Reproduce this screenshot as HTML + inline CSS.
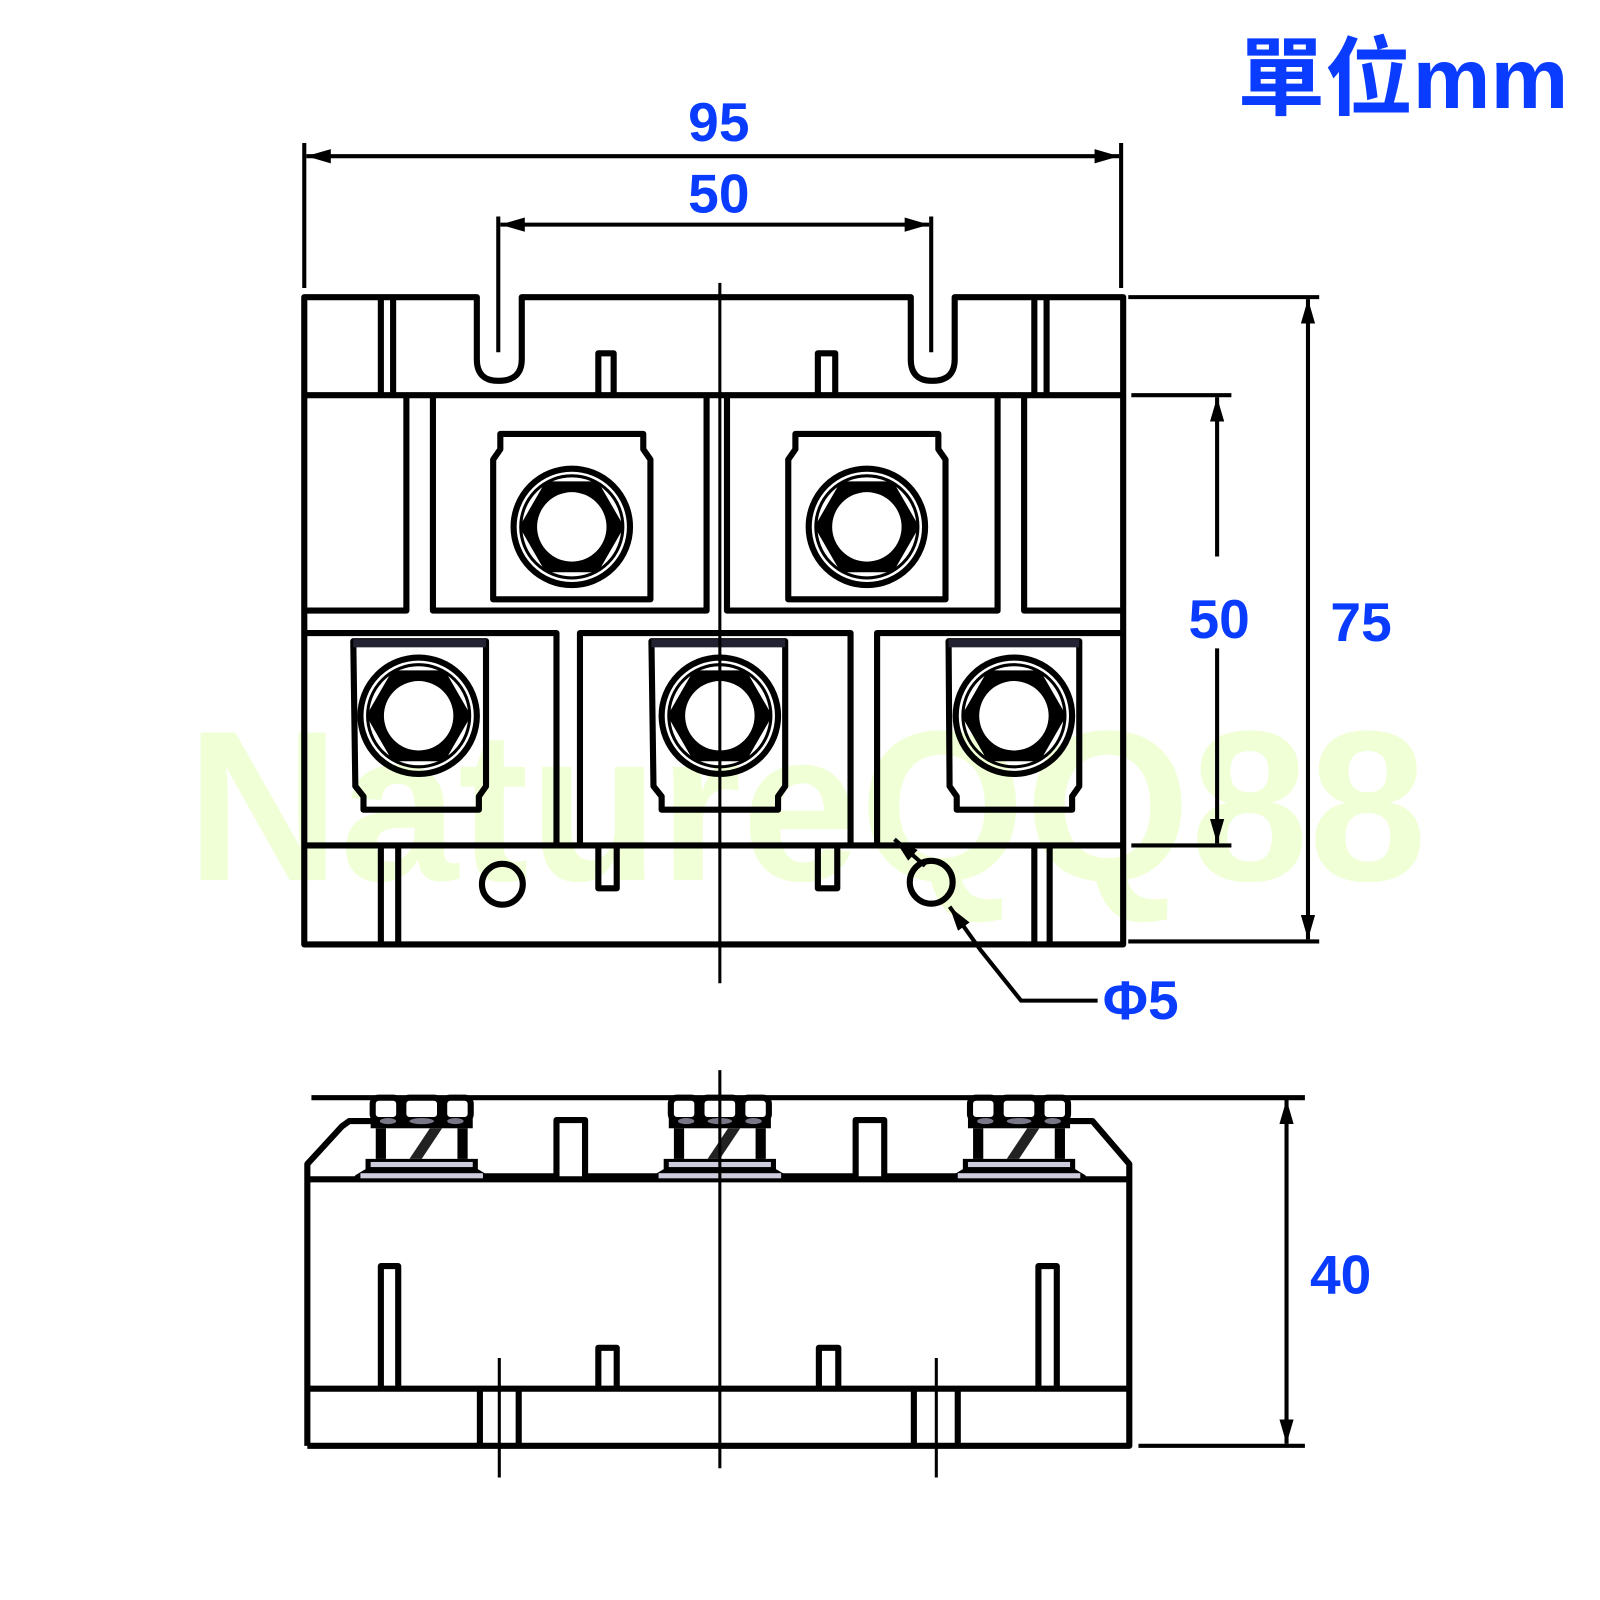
<!DOCTYPE html>
<html><head><meta charset="utf-8"><style>html,body{margin:0;padding:0;background:#fff}svg{display:block}</style></head>
<body>
<svg width="1600" height="1600" viewBox="0 0 1567 1567" xmlns="http://www.w3.org/2000/svg">
<defs>
<marker id="a" viewBox="0 0 24 14" refX="24" refY="7" markerWidth="24" markerHeight="14" markerUnits="userSpaceOnUse" orient="auto-start-reverse"><path d="M0,0 L24,7 L0,14 z" fill="#000"/></marker>
<g id="nut">
<circle r="57" fill="none" stroke="#000" stroke-width="6"/>
<circle r="50" fill="none" stroke="#000" stroke-width="3"/>
<polygon points="-49,0 -24.5,-42.5 24.5,-42.5 49,0 24.5,42.5 -24.5,42.5" fill="#000" stroke="#000" stroke-width="4" stroke-linejoin="round"/>
<circle r="34" fill="#fff"/>
</g>
<g id="term">
<rect x="-48" y="-80" width="26" height="22" rx="6" fill="#fff" stroke="#000" stroke-width="6"/>
<rect x="-18" y="-80" width="36" height="22" rx="6" fill="#fff" stroke="#000" stroke-width="6"/>
<rect x="22" y="-80" width="26" height="22" rx="6" fill="#fff" stroke="#000" stroke-width="6"/>
<rect x="-50" y="-60" width="100" height="10" fill="#000"/>
<ellipse cx="-33" cy="-57" rx="8" ry="3" fill="#778"/><ellipse cx="0" cy="-57" rx="12" ry="3" fill="#778"/><ellipse cx="33" cy="-57" rx="8" ry="3" fill="#778"/>
<rect x="-45" y="-50" width="10" height="30" fill="#000"/>
<rect x="35" y="-50" width="10" height="30" fill="#000"/>
<path d="M8,-50 L20,-50 L0,-20 L-12,-20 z" fill="#222"/>
<path d="M-55,-10 L-55,-20 L55,-20 L55,-10 L65,-4 L68,2 L-68,2 L-65,-4 z" fill="#000"/>
<rect x="-50" y="-17" width="100" height="5" fill="#ccd"/>
<rect x="-60" y="-6" width="120" height="5" fill="#ccd"/>
</g>
</defs>
<text x="790" y="862" font-family="Liberation Sans, sans-serif" font-weight="bold" font-size="210" fill="#f0ffd6" textLength="1215" lengthAdjust="spacingAndGlyphs" text-anchor="middle">NatureQQ88</text>

<g fill="none" stroke="#000" stroke-width="6" stroke-linejoin="round">
<path d="M298,291 L467,291 L467,352 Q467,373 488,373 Q511,373 511,352 L511,291 L892,291 L892,352 Q892,373 913,373 Q935,373 935,352 L935,291 L1100,291 L1100,925 L298,925 Z"/>
<line x1="298" y1="387" x2="1100" y2="387"/>
<line x1="373" y1="291" x2="373" y2="387"/><line x1="385" y1="291" x2="385" y2="387"/>
<line x1="1013" y1="291" x2="1013" y2="387"/><line x1="1025" y1="291" x2="1025" y2="387"/>
<path d="M586,387 L586,346 L601,346 L601,387"/>
<path d="M801,387 L801,346 L818,346 L818,387"/>
<path d="M298,598 L398,598 L398,387"/>
<path d="M424,387 L424,598 L692,598 L692,387"/>
<path d="M712,387 L712,598 L977,598 L977,387"/>
<path d="M1003,387 L1003,598 L1100,598"/>
<path d="M298,620 L545,620 L545,828"/>
<path d="M568,828 L568,620 L833,620 L833,828"/>
<path d="M859,828 L859,620 L1100,620"/>
<line x1="298" y1="828" x2="1100" y2="828"/>
<path d="M483,587 L483,450 L490,440 L490,425 L630,425 L630,440 L637,450 L637,587 Z"/>
<path d="M772,587 L772,450 L779,440 L779,425 L919,425 L919,440 L926,450 L926,587 Z"/>
<path d="M346,628 L476,628 L476,770 L469,780 L469,793 L356,793 L356,780 L348,770 Z"/>
<path d="M638,628 L769,628 L769,770 L762,780 L762,793 L648,793 L648,780 L640,770 Z"/>
<path d="M929,628 L1057,628 L1057,770 L1050,780 L1050,793 L937,793 L937,780 L930,770 Z"/>
<line x1="373" y1="828" x2="373" y2="925"/><line x1="390" y1="828" x2="390" y2="925"/>
<line x1="1013" y1="828" x2="1013" y2="925"/><line x1="1028" y1="828" x2="1028" y2="925"/>
<path d="M586,828 L586,870 L604,870 L604,828"/>
<path d="M801,828 L801,870 L820,870 L820,828"/>
<circle cx="492" cy="866" r="20"/>
<circle cx="912" cy="864" r="21"/>
</g>
<rect x="346" y="626" width="130" height="8" fill="#223"/>
<rect x="638" y="626" width="131" height="8" fill="#223"/>
<rect x="929" y="626" width="128" height="8" fill="#223"/>
<use href="#nut" x="560" y="516"/>
<use href="#nut" x="849" y="516"/>
<use href="#nut" x="410" y="701"/>
<use href="#nut" x="705" y="701"/>
<use href="#nut" x="993" y="701"/>
<line x1="705" y1="277" x2="705" y2="963" stroke="#000" stroke-width="3"/>

<g stroke="#000" stroke-width="4" fill="none">
<line x1="298" y1="140" x2="298" y2="282"/><line x1="1098" y1="140" x2="1098" y2="282"/>
<line x1="300" y1="153" x2="1096" y2="153" marker-start="url(#a)" marker-end="url(#a)"/>
<line x1="488" y1="212" x2="488" y2="345"/><line x1="912" y1="212" x2="912" y2="345"/>
<line x1="490" y1="220" x2="910" y2="220" marker-start="url(#a)" marker-end="url(#a)"/>
<line x1="1105" y1="291" x2="1292" y2="291"/><line x1="1105" y1="922" x2="1292" y2="922"/>
<line x1="1281" y1="293" x2="1281" y2="920" marker-start="url(#a)" marker-end="url(#a)"/>
<line x1="1108" y1="387" x2="1206" y2="387"/><line x1="1108" y1="828" x2="1206" y2="828"/>
<line x1="1192" y1="389" x2="1192" y2="545" marker-start="url(#a)"/>
<line x1="1192" y1="635" x2="1192" y2="826" marker-end="url(#a)"/>
<line x1="876" y1="822" x2="906" y2="848" marker-start="url(#a)"/>
<polyline points="1075,980 1000,980 960,930 930,888" marker-end="url(#a)"/>
</g>

<line x1="305" y1="1075" x2="1278" y2="1075" stroke="#000" stroke-width="5"/>
<g fill="none" stroke="#000" stroke-width="6" stroke-linejoin="round">
<path d="M301,1416 L301,1140 L335,1103 L342,1098 L370,1098 M475,1152 L545,1152 L545,1097 L573,1097 L573,1152 L650,1152 M760,1152 L838,1152 L838,1097 L866,1097 L866,1152 L940,1152 M1040,1098 L1070,1098 L1106,1140 L1106,1416 L301,1416"/>
<line x1="301" y1="1155" x2="1106" y2="1155"/>
<line x1="301" y1="1360" x2="1106" y2="1360"/>
<path d="M373,1360 L373,1240 L390,1240 L390,1360"/>
<path d="M1017,1360 L1017,1240 L1035,1240 L1035,1360"/>
<path d="M586,1360 L586,1320 L604,1320 L604,1360"/>
<path d="M802,1360 L802,1320 L821,1320 L821,1360"/>
<line x1="470" y1="1360" x2="470" y2="1416"/><line x1="508" y1="1360" x2="508" y2="1416"/>
<line x1="895" y1="1360" x2="895" y2="1416"/><line x1="938" y1="1360" x2="938" y2="1416"/>
</g>
<use href="#term" x="413" y="1155"/>
<use href="#term" x="705" y="1155"/>
<use href="#term" x="998" y="1155"/>
<g stroke="#000" stroke-width="3">
<line x1="705" y1="1048" x2="705" y2="1438"/>
<line x1="489" y1="1330" x2="489" y2="1447"/>
<line x1="917" y1="1330" x2="917" y2="1447"/>
</g>
<g stroke="#000" stroke-width="4">
<line x1="1115" y1="1416" x2="1278" y2="1416"/>
<line x1="1260" y1="1077" x2="1260" y2="1414" marker-start="url(#a)" marker-end="url(#a)"/>
</g>

<g font-family="Liberation Sans, sans-serif" font-weight="bold" fill="#0a3cff" font-size="54">
<text x="704" y="138" text-anchor="middle">95</text>
<text x="704" y="208" text-anchor="middle">50</text>
<text x="1194" y="625" text-anchor="middle">50</text>
<text x="1333" y="628" text-anchor="middle">75</text>
<text x="1313" y="1267" text-anchor="middle">40</text>
<text x="1080" y="998">Φ5</text>
</g>
<text x="1212" y="106" font-family="Liberation Sans, 'Noto Sans CJK TC', sans-serif" font-weight="bold" font-size="84" fill="#0a3cff" textLength="324" lengthAdjust="spacingAndGlyphs">單位mm</text>
</svg>
</body></html>
